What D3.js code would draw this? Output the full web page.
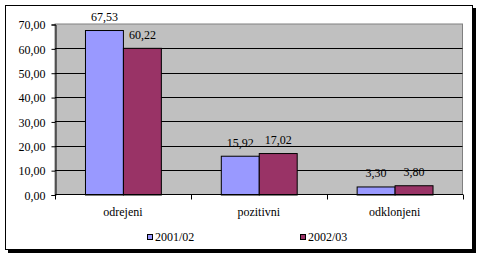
<!DOCTYPE html>
<html>
<head>
  <meta charset="utf-8">
  <script src="https://d3js.org/d3.v7.min.js"></script>
  <style>
    html, body { margin: 0; padding: 0; background: #fff; }
    svg text { font-family: "Liberation Serif", "Times New Roman", serif; font-size: 12px; fill: #000; }
  </style>
</head>
<body>
  <svg id="chart" width="480" height="257"></svg>
  <script>
    const categories = ['odrejeni', 'pozitivni', 'odklonjeni']
    const series = ['2001/02', '2002/03']
    const values2001 = [67.53, 15.92, 3.30]
    const values2002 = [60.22, 17.02, 3.80]
    const yTicks = [0, 10, 20, 30, 40, 50, 60, 70]
    const colors = ['#9999ff', '#993366']

    const svg = d3.select('#chart')
    const fmt = v => d3.format('.2f')(v).replace('.', ',')

    // frame with shadow
    svg.append('rect').attr('x', 8).attr('y', 8).attr('width', 468).attr('height', 245).attr('fill', '#000')
    svg.append('rect').attr('x', 5.5).attr('y', 5.5).attr('width', 467).attr('height', 244)
      .attr('fill', '#fff').attr('stroke', '#000')

    const pLeft = 55, pRight = 462.5, pTop = 24, pBottom = 194.5
    const x = d3.scaleBand().domain(categories).range([pLeft, pRight])
    const xs = d3.scaleBand().domain(series).range([0, x.bandwidth()]).paddingOuter(0.79).paddingInner(0)
    const y = d3.scaleLinear().domain([0, 70]).range([pBottom, pTop])

    svg.append('rect').attr('x', pLeft).attr('y', pTop).attr('width', pRight - pLeft).attr('height', pBottom - pTop)
      .attr('fill', '#c0c0c0').attr('stroke', '#808080')

    // gridlines
    svg.append('g').selectAll('line').data(yTicks.filter(t => t > 0 && t < 70)).join('line')
      .attr('x1', pLeft).attr('x2', pRight)
      .attr('y1', d => Math.round(y(d)) + 0.5).attr('y2', d => Math.round(y(d)) + 0.5)
      .attr('stroke', '#000')

    const data = categories.map((c, i) => [
      { cat: c, s: series[0], v: values2001[i] },
      { cat: c, s: series[1], v: values2002[i] }
    ]).flat()

    svg.append('g').selectAll('rect').data(data).join('rect')
      .attr('x', d => x(d.cat) + xs(d.s) + 0.5)
      .attr('y', d => y(d.v) + 0.5)
      .attr('width', xs.bandwidth())
      .attr('height', d => pBottom - y(d.v))
      .attr('fill', d => colors[series.indexOf(d.s)])
      .attr('stroke', '#000')

    svg.append('g').selectAll('text').data(data).join('text')
      .attr('x', d => x(d.cat) + xs(d.s) + xs.bandwidth() / 2 + 0.5)
      .attr('y', d => y(d.v) - 9)
      .attr('text-anchor', 'middle')
      .text(d => fmt(d.v))

    // y axis
    const yAxis = svg.append('g').attr('transform', `translate(${pLeft + 0.5},0.5)`)
      .call(d3.axisLeft(y).tickValues(yTicks).tickSize(4).tickPadding(6).tickFormat(fmt))
    yAxis.attr('font-family', null).attr('font-size', null)
    yAxis.select('.domain').attr('stroke', '#000')
    yAxis.selectAll('line').attr('stroke', '#000')
    yAxis.selectAll('text').attr('dy', '0.35em')

    // x axis
    svg.append('line').attr('x1', pLeft).attr('x2', pRight + 0.5).attr('y1', pBottom).attr('y2', pBottom).attr('stroke', '#000')
    const bounds = categories.map(c => x(c)).concat([pRight])
    svg.append('g').selectAll('line').data(bounds).join('line')
      .attr('x1', d => Math.round(d) + 0.5).attr('x2', d => Math.round(d) + 0.5)
      .attr('y1', pBottom).attr('y2', pBottom + 5).attr('stroke', '#000')
    svg.append('g').selectAll('text').data(categories).join('text')
      .attr('x', d => x(d) + x.bandwidth() / 2)
      .attr('y', 216)
      .attr('text-anchor', 'middle')
      .text(d => d)

    // legend
    const legX = [147, 300]
    const leg = svg.append('g').selectAll('g').data(series).join('g')
      .attr('transform', (d, i) => `translate(${legX[i]},234)`)
    leg.append('rect').attr('x', 0.5).attr('y', 0.5).attr('width', 5).attr('height', 5)
      .attr('fill', (d, i) => colors[i]).attr('stroke', '#000')
    leg.append('text').attr('x', 8).attr('y', 7).text(d => d)
  </script>
</body>
</html>
